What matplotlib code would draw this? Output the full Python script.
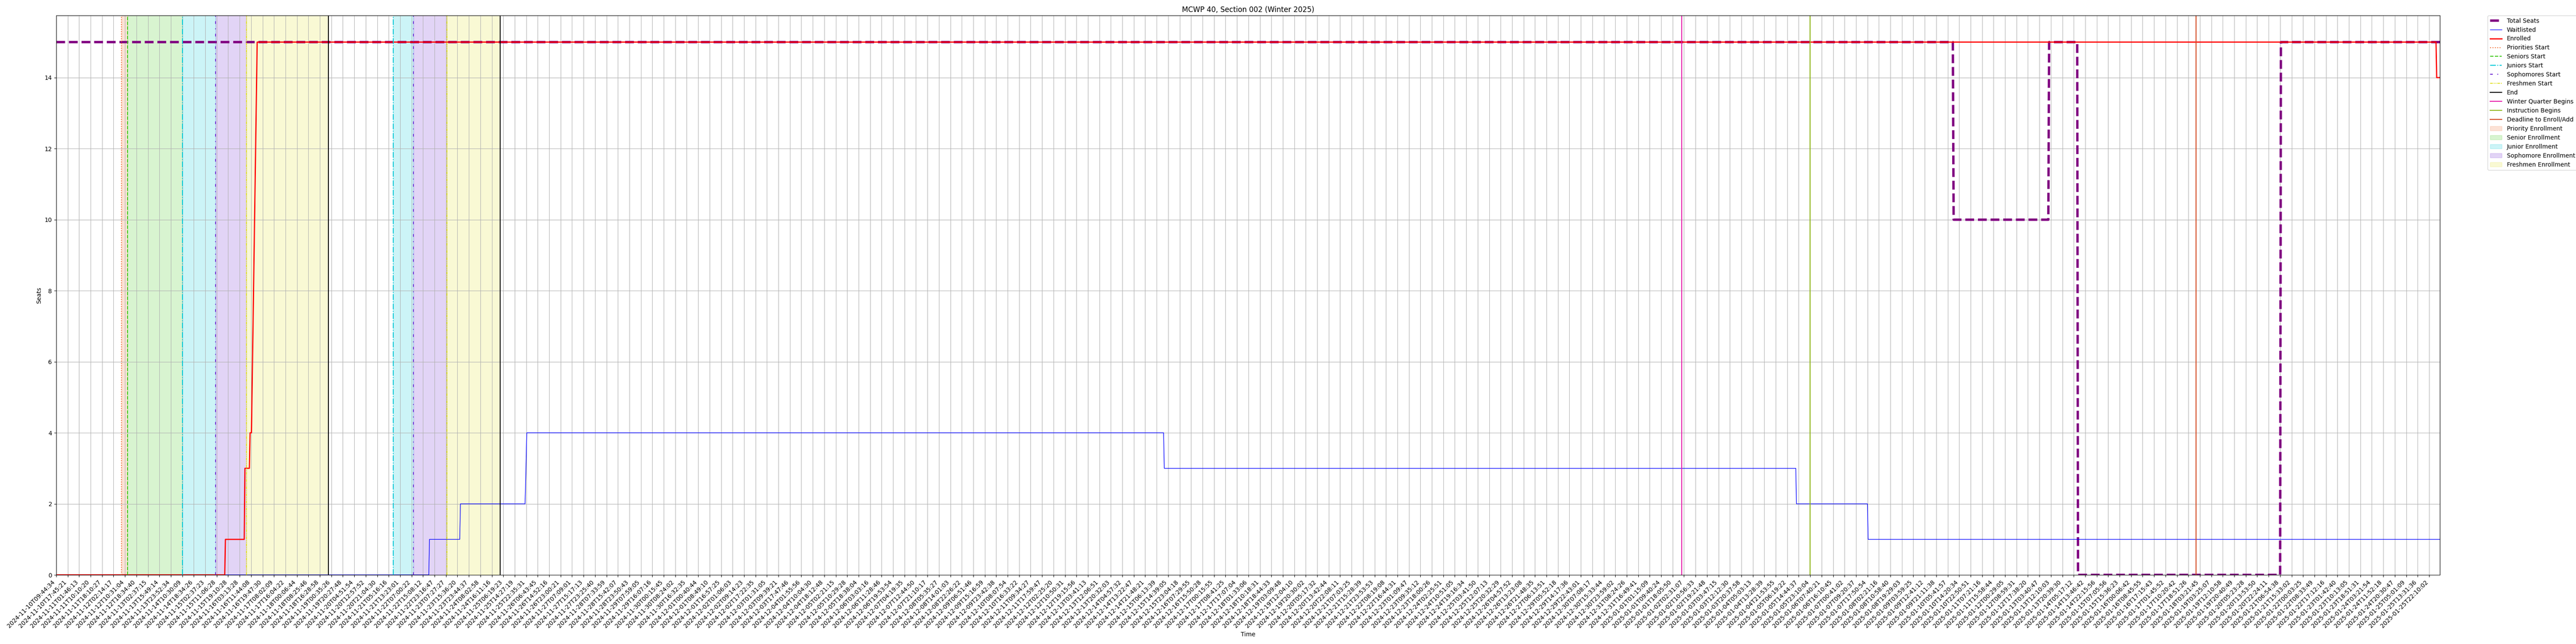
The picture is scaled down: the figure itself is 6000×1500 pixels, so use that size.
import matplotlib
matplotlib.use("Agg")
from matplotlib import pyplot as plt

# x positions are in units of x-tick index (the axis is categorical, one tick every N samples)
tick_labels = [
    # 0-39
    "2024-11-10T09:44:34", "2024-11-10T17:45:21", "2024-11-11T01:46:13", "2024-11-11T10:10:20",
    "2024-11-11T18:10:27", "2024-11-12T02:14:17", "2024-11-12T10:31:04", "2024-11-12T18:34:40",
    "2024-11-13T02:37:15", "2024-11-13T15:49:14", "2024-11-13T23:52:34", "2024-11-14T10:30:09",
    "2024-11-14T18:34:26", "2024-11-15T02:37:23", "2024-11-15T11:06:28", "2024-11-15T19:10:28",
    "2024-11-16T03:13:28", "2024-11-16T11:44:08", "2024-11-16T19:47:30", "2024-11-17T08:02:09",
    "2024-11-17T16:04:22", "2024-11-18T00:06:44", "2024-11-18T08:25:46", "2024-11-18T16:28:58",
    "2024-11-19T00:35:26", "2024-11-19T20:27:48", "2024-11-20T04:51:54", "2024-11-20T12:57:52",
    "2024-11-20T21:04:30", "2024-11-21T05:16:16", "2024-11-21T13:23:01", "2024-11-22T07:00:22",
    "2024-11-22T15:08:12", "2024-11-22T23:16:47", "2024-11-23T07:27:27", "2024-11-23T15:36:20",
    "2024-11-23T23:44:37", "2024-11-24T08:02:58", "2024-11-24T16:11:16", "2024-11-25T06:19:23",
    # 40-79
    "2024-11-25T14:27:19", "2024-11-25T22:35:31", "2024-11-26T06:43:45", "2024-11-26T14:52:16",
    "2024-11-26T23:00:21", "2024-11-27T07:09:01", "2024-11-27T15:17:13", "2024-11-27T23:25:40",
    "2024-11-28T07:33:59", "2024-11-28T15:42:07", "2024-11-28T23:50:43", "2024-11-29T07:59:05",
    "2024-11-29T16:07:16", "2024-11-30T00:15:45", "2024-11-30T08:24:02", "2024-11-30T16:32:35",
    "2024-12-01T00:40:44", "2024-12-01T08:49:10", "2024-12-01T16:57:25", "2024-12-02T01:06:03",
    "2024-12-02T09:14:23", "2024-12-02T17:22:35", "2024-12-03T01:31:05", "2024-12-03T09:39:21",
    "2024-12-03T17:47:46", "2024-12-04T01:55:56", "2024-12-04T10:04:30", "2024-12-04T18:12:48",
    "2024-12-05T02:21:15", "2024-12-05T10:29:28", "2024-12-05T18:38:04", "2024-12-06T03:03:16",
    "2024-12-06T11:28:46", "2024-12-06T19:53:54", "2024-12-07T04:19:35", "2024-12-07T12:44:50",
    "2024-12-07T21:10:17", "2024-12-08T05:35:27", "2024-12-08T14:01:03", "2024-12-08T22:26:22",
    # 80-119
    "2024-12-09T06:51:46", "2024-12-09T15:16:59", "2024-12-09T23:42:38", "2024-12-10T08:07:54",
    "2024-12-10T16:33:22", "2024-12-11T09:34:27", "2024-12-11T17:59:47", "2024-12-12T02:25:20",
    "2024-12-12T10:50:31", "2024-12-12T19:15:56", "2024-12-13T03:41:13", "2024-12-13T12:06:51",
    "2024-12-13T20:32:03", "2024-12-14T04:57:32", "2024-12-14T13:22:47", "2024-12-14T21:48:21",
    "2024-12-15T06:13:39", "2024-12-15T14:39:05", "2024-12-15T23:04:18", "2024-12-16T07:29:55",
    "2024-12-16T15:50:28", "2024-12-17T00:15:55", "2024-12-17T08:41:25", "2024-12-17T17:07:04",
    "2024-12-18T01:33:06", "2024-12-18T10:18:31", "2024-12-18T18:44:33", "2024-12-19T03:09:48",
    "2024-12-19T12:04:10", "2024-12-19T20:30:02", "2024-12-20T05:17:32", "2024-12-20T13:42:44",
    "2024-12-20T22:08:11", "2024-12-21T07:03:25", "2024-12-21T15:28:39", "2024-12-21T23:53:53",
    "2024-12-22T08:19:08", "2024-12-22T16:44:31", "2024-12-23T01:09:47", "2024-12-23T09:35:12",
    # 120-159
    "2024-12-23T18:00:26", "2024-12-24T02:25:51", "2024-12-24T10:51:05", "2024-12-24T19:16:34",
    "2024-12-25T03:41:50", "2024-12-25T12:07:13", "2024-12-25T20:32:29", "2024-12-26T04:57:52",
    "2024-12-26T13:23:08", "2024-12-26T21:48:35", "2024-12-27T06:13:51", "2024-12-29T05:52:18",
    "2024-12-29T14:17:36", "2024-12-29T22:43:01", "2024-12-30T07:08:17", "2024-12-30T15:33:44",
    "2024-12-30T23:59:02", "2024-12-31T08:24:26", "2024-12-31T16:49:41", "2025-01-01T01:15:09",
    "2025-01-01T09:40:24", "2025-01-01T18:05:50", "2025-01-02T02:31:07", "2025-01-02T10:56:33",
    "2025-01-02T19:21:48", "2025-01-03T03:47:15", "2025-01-03T12:12:30", "2025-01-03T20:37:58",
    "2025-01-04T05:03:13", "2025-01-04T13:28:39", "2025-01-04T21:53:55", "2025-01-05T06:19:22",
    "2025-01-05T14:44:37", "2025-01-05T23:10:04", "2025-01-06T07:40:21", "2025-01-06T16:10:45",
    "2025-01-07T00:41:02", "2025-01-07T09:20:37", "2025-01-07T17:50:54", "2025-01-08T02:21:16",
    # 160-199
    "2025-01-08T10:58:40", "2025-01-08T19:29:03", "2025-01-09T03:59:25", "2025-01-09T12:41:12",
    "2025-01-09T21:11:38", "2025-01-10T05:41:57", "2025-01-10T14:20:34", "2025-01-10T22:50:51",
    "2025-01-11T07:21:16", "2025-01-11T15:58:44", "2025-01-12T00:29:05", "2025-01-12T08:59:31",
    "2025-01-12T17:38:20", "2025-01-13T03:40:47", "2025-01-13T12:10:03", "2025-01-13T20:39:30",
    "2025-01-14T05:17:12", "2025-01-14T13:46:42", "2025-01-14T22:15:56", "2025-01-15T07:05:56",
    "2025-01-15T15:36:23", "2025-01-16T00:06:42", "2025-01-16T08:45:55", "2025-01-16T17:15:43",
    "2025-01-17T01:45:52", "2025-01-17T10:20:42", "2025-01-17T18:51:26", "2025-01-18T03:21:45",
    "2025-01-19T03:25:07", "2025-01-19T12:10:58", "2025-01-19T20:40:49", "2025-01-20T05:23:28",
    "2025-01-20T13:53:50", "2025-01-20T22:24:11", "2025-01-21T06:54:38", "2025-01-21T15:33:02",
    "2025-01-22T00:03:25", "2025-01-22T08:33:49", "2025-01-22T17:12:16", "2025-01-23T01:42:40",
    # 200-207
    "2025-01-23T10:13:05", "2025-01-23T18:51:31", "2025-01-24T03:21:54", "2025-01-24T11:52:18",
    "2025-01-24T20:30:47", "2025-01-25T05:01:09", "2025-01-25T13:31:36", "2025-01-25T22:10:02",
]

total_x = [0, 165.45, 165.52, 173.78, 173.85, 176.3, 176.37, 194.0, 194.07, 207.94]
total_y = [15, 15, 10, 10, 15, 15, 0, 0, 15, 15]

wait_x = [0, 32.5, 32.56, 35.2, 35.26, 40.9, 41.05, 96.6, 96.66, 151.75, 151.81, 158.0, 158.06, 207.94]
wait_y = [0, 0, 1, 1, 2, 2, 4, 4, 3, 3, 2, 2, 1, 1]

enr_x = [0, 14.7, 14.76, 16.4, 16.46, 16.85, 16.91, 17.03, 17.53, 207.6, 207.66, 207.94]
enr_y = [0, 0, 1, 1, 3, 3, 4, 4, 15, 15, 14, 14]

priorities_start = [5.71]
seniors_start = [6.22]
juniors_start = [11.0, 29.4]
sophomores_start = [13.88, 31.16]
freshmen_start = [16.6, 34.07]
end_times = [23.73, 38.73]
winter_begins = 141.8
instruction_begins = 153.0
deadline_add = 186.65

priority_spans = [(5.71, 6.22)]
senior_spans = [(6.22, 11.0)]
junior_spans = [(11.0, 13.88), (29.4, 31.16)]
sophomore_spans = [(13.88, 16.6), (31.16, 34.07)]
freshmen_spans = [(16.6, 23.73), (34.07, 38.73)]

c_pri = "#f26e32"
c_sen = "#3cc814"
c_jun = "#00c8d7"
c_sop = "#6e28d2"
c_fre = "#e1e128"

fig, ax = plt.subplots(figsize=(60, 15), dpi=100)
fig.subplots_adjust(left=0.02183, right=0.94717, top=0.976, bottom=0.10733)

ax.plot(total_x, total_y, color="purple", linestyle="--", linewidth=4, label="Total Seats")
ax.plot(wait_x, wait_y, color="blue", linewidth=1, label="Waitlisted")
ax.plot(enr_x, enr_y, color="red", linewidth=2, label="Enrolled")


def vlines(xs, label, **kw):
    for i, x in enumerate(xs):
        ax.axvline(x, label=label if i == 0 else None, linewidth=1.5, **kw)


vlines(priorities_start, "Priorities Start", color=c_pri, linestyle=":")
vlines(seniors_start, "Seniors Start", color=c_sen, linestyle="--")
vlines(juniors_start, "Juniors Start", color=c_jun, linestyle="-.")
vlines(sophomores_start, "Sophomores Start", color=c_sop, linestyle=(0, (3, 5, 1, 5)))
vlines(freshmen_start, "Freshmen Start", color=c_fre, linestyle=(0, (3, 1, 1, 1, 1, 1)))
vlines(end_times, "End", color="black", linestyle="-")
vlines([winter_begins], "Winter Quarter Begins", color="#e619a8")
vlines([instruction_begins], "Instruction Begins", color="#8cb414")
vlines([deadline_add], "Deadline to Enroll/Add", color="#d2461e")


def spans(pairs, label, color):
    for i, (a, b) in enumerate(pairs):
        ax.axvspan(a, b, color=color, alpha=0.2, label=label if i == 0 else None)


spans(priority_spans, "Priority Enrollment", c_pri)
spans(senior_spans, "Senior Enrollment", c_sen)
spans(junior_spans, "Junior Enrollment", c_jun)
spans(sophomore_spans, "Sophomore Enrollment", c_sop)
spans(freshmen_spans, "Freshmen Enrollment", c_fre)

ax.set_xticks(range(len(tick_labels)))
ax.set_xticklabels(tick_labels, rotation=45, ha="right")
ax.set_xlim(0, total_x[-1])
ax.set_ylim(0, 15 * 1.05)
ax.grid(True)
ax.set_title("MCWP 40, Section 002 (Winter 2025)")
ax.set_xlabel("Time")
ax.set_ylabel("Seats")
ax.legend(loc="upper left", bbox_to_anchor=(1.02, 1), borderaxespad=0)

fig.savefig("out.png")
